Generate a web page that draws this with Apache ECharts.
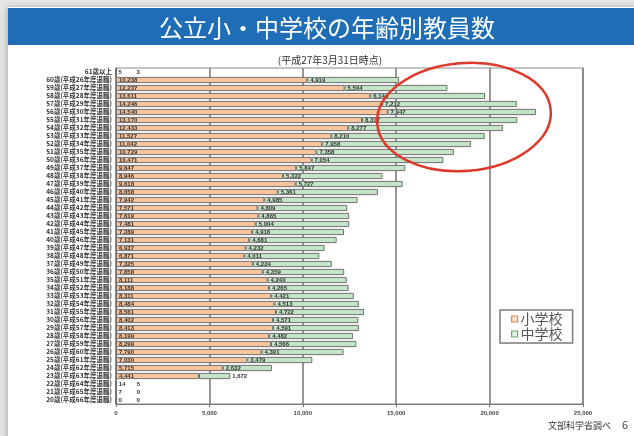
<!DOCTYPE html>
<html>
<head>
<meta charset="utf-8">
<script src="https://cdn.jsdelivr.net/npm/echarts@6/dist/echarts.min.js"></script>
<style>
  html, body { margin: 0; padding: 0; background: #e6e6e6; }
  #chart { width: 634px; height: 436px; }
</style>
</head>
<body>
<div id="chart"></div>
<script>
// 年齢区分（上から61歳以上→20歳）
const ageLabels = [
  '61歳以上',
  '60歳(平成26年度退職)', '59歳(平成27年度退職)', '58歳(平成28年度退職)', '57歳(平成29年度退職)',
  '56歳(平成30年度退職)', '55歳(平成31年度退職)', '54歳(平成32年度退職)', '53歳(平成33年度退職)',
  '52歳(平成34年度退職)', '51歳(平成35年度退職)', '50歳(平成36年度退職)', '49歳(平成37年度退職)',
  '48歳(平成38年度退職)', '47歳(平成39年度退職)', '46歳(平成40年度退職)', '45歳(平成41年度退職)',
  '44歳(平成42年度退職)', '43歳(平成43年度退職)', '42歳(平成44年度退職)', '41歳(平成45年度退職)',
  '40歳(平成46年度退職)', '39歳(平成47年度退職)', '38歳(平成48年度退職)', '37歳(平成49年度退職)',
  '36歳(平成50年度退職)', '35歳(平成51年度退職)', '34歳(平成52年度退職)', '33歳(平成53年度退職)',
  '32歳(平成54年度退職)', '31歳(平成55年度退職)', '30歳(平成56年度退職)', '29歳(平成57年度退職)',
  '28歳(平成58年度退職)', '27歳(平成59年度退職)', '26歳(平成60年度退職)', '25歳(平成61年度退職)',
  '24歳(平成62年度退職)', '23歳(平成63年度退職)', '22歳(平成64年度退職)', '21歳(平成65年度退職)',
  '20歳(平成66年度退職)'
];

// 小学校 教員数
const elementary = [
  5, 10238, 12237, 13611, 14246, 14540, 13170, 12433, 11527, 11042,
  10729, 10471, 9647, 8946, 9618, 8658, 7942, 7571, 7619, 7481,
  7289, 7131, 6937, 6871, 7325, 7858, 8111, 8188, 8311, 8484,
  8561, 8402, 8413, 8199, 8299, 7790, 7030, 5715, 4441, 14,
  7, 0
];

// 中学校 教員数
const middle = [
  3, 4919, 5504, 6144, 7212, 7947, 8317, 8277, 8210, 7958,
  7358, 7054, 5847, 5322, 5727, 5361, 4985, 4809, 4865, 5004,
  4918, 4681, 4232, 4011, 4224, 4359, 4240, 4265, 4421, 4513,
  4722, 4571, 4591, 4482, 4566, 4391, 3479, 2632, 1672, 5,
  0, 0
];

// 横軸目盛
const xTicks = { min: 0, max: 25000, step: 5000 };

const fmt = v => Number(v).toLocaleString('en-US');
const cjk = '"Noto Sans CJK JP", "Noto Sans", sans-serif';

const labelBase = {
  show: true,
  position: 'insideLeft',
  distance: 3,
  fontSize: 6,
  fontWeight: 'bold',
  color: '#333',
  fontFamily: 'Arial, "Liberation Sans", sans-serif',
  formatter: p => fmt(p.value)
};

// 人数がごく少ない行は中学校ラベルを右へずらす
const middleData = middle.map((v, i) => {
  if (elementary[i] < 100) {
    return { value: v, label: { offset: [18, 0] } };
  }
  if (v < 2000) {
    return { value: v, label: { position: 'right', distance: 2 } };
  }
  return v;
});

const chart = echarts.init(document.getElementById('chart'), null, { renderer: 'canvas' });

chart.setOption({
  backgroundColor: 'transparent',
  animation: false,
  title: [
    {
      text: '公立小・中学校の年齢別教員数',
      left: 322, top: 11, textAlign: 'center',
      textStyle: { color: '#ffffff', fontSize: 24, fontWeight: 'normal', fontFamily: cjk }
    },
    {
      text: '(平成27年3月31日時点)',
      left: 325, top: 50, textAlign: 'center',
      textStyle: { color: '#333', fontSize: 10, fontWeight: 'normal', fontFamily: cjk }
    },
    {
      text: '文部科学省調べ',
      left: 543, top: 416,
      textStyle: { color: '#333', fontSize: 9, fontWeight: 'normal', fontFamily: cjk }
    },
    {
      text: '6',
      left: 617, top: 414,
      textStyle: { color: '#444', fontSize: 11, fontWeight: 'normal', fontFamily: cjk }
    }
  ],
  legend: {
    orient: 'vertical',
    left: 500, top: 310,
    backgroundColor: '#ffffff',
    borderColor: '#7a7a7a',
    borderWidth: 1.5,
    padding: [2, 10, 2, 11],
    itemGap: 1,
    itemWidth: 6,
    itemHeight: 6,
    icon: 'rect',
    textStyle: { fontSize: 14, color: '#555', fontFamily: cjk, padding: [0, 0, 0, -2] },
    data: [
      { name: '小学校', itemStyle: { color: '#fbe3cf', borderColor: '#e0884a', borderWidth: 1.2 } },
      { name: '中学校', itemStyle: { color: '#e3f3e4', borderColor: '#6aa873', borderWidth: 1.2 } }
    ]
  },
  grid: {
    left: 116, right: 51, top: 68, bottom: 32,
    show: true,
    borderColor: '#8a8a8a',
    borderWidth: 1.2,
    backgroundColor: '#ffffff'
  },
  xAxis: {
    type: 'value',
    min: xTicks.min, max: xTicks.max, interval: xTicks.step,
    axisLine: { show: true, lineStyle: { color: '#777', width: 1.2 } },
    axisTick: { show: true, length: 3, lineStyle: { color: '#777' } },
    splitLine: { show: true, lineStyle: { color: '#7d7d7d', width: 1.6 } },
    axisLabel: {
      fontSize: 6, fontWeight: 'bold', color: '#444', margin: 6,
      fontFamily: 'Arial, "Liberation Sans", sans-serif',
      formatter: v => fmt(v)
    }
  },
  yAxis: {
    type: 'category',
    inverse: true,
    data: ageLabels,
    axisLine: { show: true, lineStyle: { color: '#777', width: 1.2 } },
    axisTick: { show: false },
    axisLabel: {
      interval: 0, fontSize: 6.5, fontWeight: 'bold', color: '#333', margin: 4,
      fontFamily: cjk
    }
  },
  series: [
    {
      name: '小学校',
      type: 'bar',
      stack: 'teachers',
      barCategoryGap: '22%',
      data: elementary,
      itemStyle: { color: '#f8c49c', borderColor: '#707070', borderWidth: 1 },
      label: labelBase
    },
    {
      name: '中学校',
      type: 'bar',
      stack: 'teachers',
      data: middleData,
      itemStyle: { color: '#c3e4c6', borderColor: '#707070', borderWidth: 1 },
      label: labelBase
    }
  ],
  graphic: [
    {
      type: 'rect', z: -10, silent: true,
      shape: { x: 8, y: 7, width: 640, height: 440 },
      style: { fill: '#ffffff', shadowBlur: 6, shadowColor: 'rgba(0,0,0,0.25)', shadowOffsetX: -1 }
    },
    {
      type: 'rect', z: -9, silent: true,
      shape: { x: 8, y: 8, width: 640, height: 37 },
      style: { fill: '#1e6db6' }
    },
    {
      type: 'ellipse', z: 100, silent: true,
      x: 464, y: 117, rotation: 0.08,
      shape: { cx: 0, cy: 0, rx: 87, ry: 54 },
      style: { fill: null, stroke: '#dd3a2c', lineWidth: 2.5 }
    }
  ]
});
</script>
</body>
</html>
